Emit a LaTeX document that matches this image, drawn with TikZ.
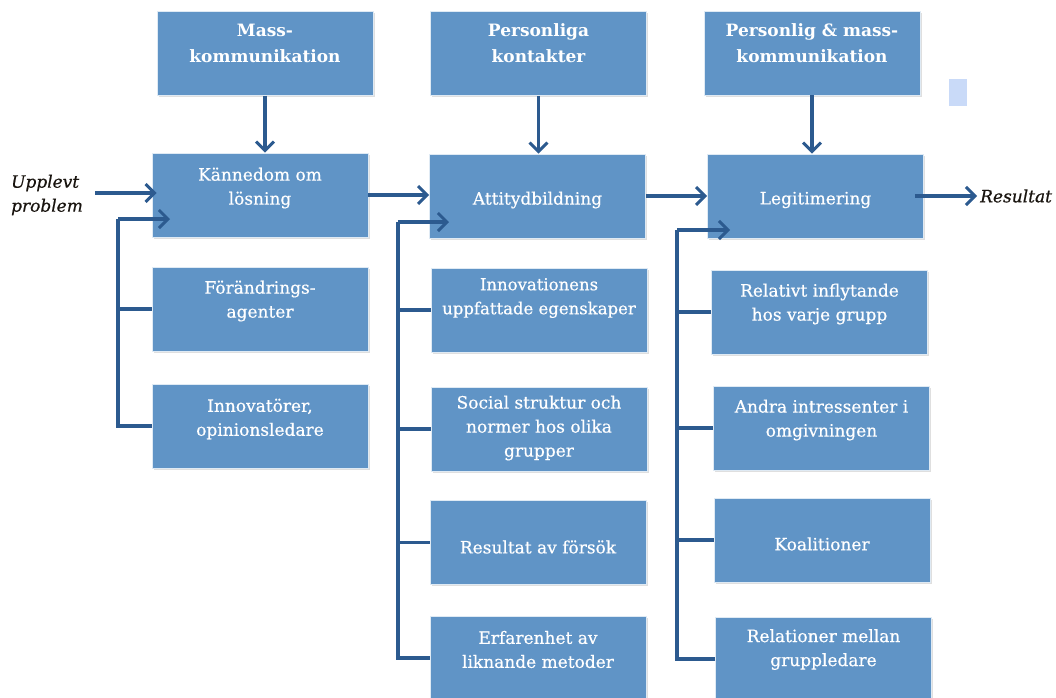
\documentclass[tikz,border=0pt]{standalone}
\usepackage{fontspec}
\setmainfont{DejaVu Serif}
\newfontfamily\boxfont[FakeBold=0.5]{DejaVu Serif}
\newfontfamily\lblfont[FakeBold=0.6]{DejaVu Serif Italic}
\usetikzlibrary{arrows.meta,shadows}
\definecolor{boxblue}{RGB}{96,148,198}
\definecolor{lineblue}{RGB}{44,90,143}
\definecolor{lightsq}{RGB}{201,218,248}
\definecolor{lbltext}{RGB}{25,20,15}
\begin{document}
\begin{tikzpicture}[x=1pt,y=-1pt,
 box/.style={rectangle,fill=boxblue,minimum width=216pt,minimum height=84pt,inner sep=0pt,draw=white!80!boxblue,line width=0.6pt,drop shadow={shadow xshift=1.5pt,shadow yshift=-1.5pt,opacity=0.25}},
 txt/.style={text=white,align=center,font=\boxfont\fontsize{17}{24}\selectfont,inner sep=0pt},
 btxt/.style={text=white,align=center,inner sep=0pt,font=\fontsize{17}{26}\selectfont\bfseries},
 ln/.style={draw=lineblue,line width=3.5pt},
 arr/.style={ln,-{Straight Barb[length=9pt,width=18pt,line width=3pt]}},
 lbl/.style={font=\lblfont\fontsize{17}{24}\selectfont,text=lbltext,align=left,inner sep=0pt}
]
\useasboundingbox (0,0) rectangle (1056,697);
% top row
\node[box] (mk) at (265,53.5) {};
\node[box] (pk) at (538.5,53.5) {};
\node[box] (pmk) at (812,53) {};
\node[btxt] (mkt) at (265,43.5) {Mass-\\kommunikation};
\node[btxt] (pkt) at (538.5,43.5) {Personliga\\kontakter};
\node[btxt] (pmkt) at (812,43.5) {Personlig \& mass-\\kommunikation};
% second row
\node[box] (kl) at (260,195) {};
\node[box] (att) at (537.5,196) {};
\node[box] (leg) at (815.5,196) {};
\node[txt] (klt) at (260,188) {Kännedom om\\lösning};
\node[txt] (attt) at (537.5,200) {Attitydbildning};
\node[txt] (legt) at (815.5,200) {Legitimering};
% left column
\node[box] (fa) at (260,309) {};
\node[box] (inn) at (260,426) {};
\node[txt] (fat) at (260,301) {Förändrings-\\agenter};
\node[txt] (innt) at (260,419) {Innovatörer,\\opinionsledare};
% middle column
\node[box] (ie) at (539,310) {};
\node[box] (ss) at (539,429) {};
\node[box] (rf) at (538,542.5) {};
\node[box] (em) at (538,658) {};
\node[txt,font=\boxfont\fontsize{16.5}{24}\selectfont] (iet) at (539,298) {Innovationens\\uppfattade egenskaper};
\node[txt] (sst) at (539,428) {Social struktur och\\normer hos olika\\grupper};
\node[txt] (rft) at (538,547) {Resultat av försök};
\node[txt] (emt) at (538,649.5) {Erfarenhet av\\liknande metoder};
% right column
\node[box] (ri) at (819.5,312) {};
\node[box] (ai) at (821.5,428) {};
\node[box] (ko) at (822,540) {};
\node[box] (rm) at (823.5,659) {};
\node[txt] (rit) at (819.5,304) {Relativt inflytande\\hos varje grupp};
\node[txt] (ait) at (821.5,420) {Andra intressenter i\\omgivningen};
\node[txt] (kot) at (822,544) {Koalitioner};
\node[txt] (rmt) at (823.5,649.5) {Relationer mellan\\gruppledare};
% outside labels
\node[lbl] (up) at (47,195) {Upplevt\\problem};
\node[lbl,anchor=west] (res) at (980,196) {Resultat};
\node[fill=lightsq,minimum width=18pt,minimum height=27pt,inner sep=0pt] (sq) at (958,92.5) {};
% vertical arrows
\draw[arr] (mk.south) -- (mk.south |- kl.north);
\draw[arr] (pk.south) -- (pk.south |- att.north);
\draw[arr] (pmk.south) -- (pmk.south |- leg.north);
% horizontal arrows
\coordinate (upstart) at (95,193);
\draw[arr] (upstart) -- ([xshift=5pt]upstart -| kl.west);
\draw[arr] (kl.east) -- (kl.east -| att.west);
\draw[arr] (att.east) -- (att.east -| leg.west);
\draw[arr] ([xshift=-9pt]leg.east) -- ([xshift=-3pt]res.west);
% left bracket
\coordinate (lt) at (118,219);
\coordinate (ltip) at (170,219);
\draw[ln] (inn.west) -| (lt);
\draw[arr] (lt) -- (ltip);
\draw[ln] (fa.west) -- (fa.west -| lt);
% middle bracket
\coordinate (mt) at (398,222);
\coordinate (mtip) at (449,222);
\draw[ln] (em.west) -| (mt);
\draw[arr] (mt) -- (mtip);
\draw[ln] (ie.west) -- (ie.west -| mt);
\draw[ln] (ss.west) -- (ss.west -| mt);
\draw[ln] (rf.west) -- (rf.west -| mt);
% right bracket
\coordinate (rt) at (677,230);
\coordinate (rtip) at (730,230);
\draw[ln] (rm.west) -| (rt);
\draw[arr] (rt) -- (rtip);
\draw[ln] (ri.west) -- (ri.west -| rt);
\draw[ln] (ai.west) -- (ai.west -| rt);
\draw[ln] (ko.west) -- (ko.west -| rt);
\end{tikzpicture}
\end{document}
